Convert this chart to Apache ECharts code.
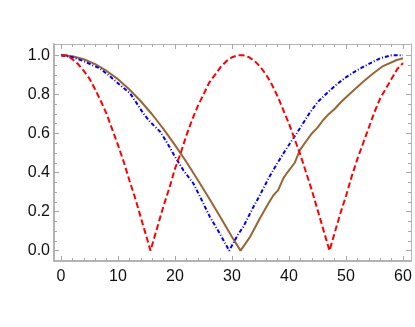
<!DOCTYPE html>
<html>
<head>
<meta charset="utf-8">
<script src="https://cdn.jsdelivr.net/npm/echarts@6/dist/echarts.min.js"></script>
<style>
    html, body { margin: 0; padding: 0; background: #fff; }
    #chart { width: 415px; height: 327px; }
</style>
</head>
<body>
<div id="chart"></div>
<script>
// values
var redX = [0, 1, 2, 3, 4, 5, 6, 7, 8, 9, 10, 11, 12, 13, 14, 15, 15.7, 16, 17, 18, 19, 20,
    21, 22, 23, 24, 25, 26, 27, 28, 29, 30, 31, 32, 33, 34, 35, 36, 37, 38, 39, 40,
    41, 42, 43, 44, 45, 46, 47.1, 48, 49, 50, 51, 52, 53, 54, 55, 56, 57, 58, 59, 60];
var redY = [1.00, 1.00, 0.98, 0.955, 0.92, 0.88, 0.825, 0.765, 0.70, 0.62, 0.54, 0.455, 0.36, 0.27, 0.17, 0.07, 0, 0.03, 0.13, 0.23, 0.32, 0.42,
    0.50, 0.59, 0.67, 0.74, 0.80, 0.86, 0.90, 0.94, 0.97, 0.99, 1.00, 1.00, 0.99, 0.97, 0.94, 0.90, 0.85, 0.79, 0.72, 0.65,
    0.57, 0.49, 0.40, 0.31, 0.21, 0.11, 0, 0.09, 0.19, 0.28, 0.38, 0.47, 0.55, 0.63, 0.71, 0.78, 0.83, 0.88, 0.93, 0.96];

var blueX = [0, 2, 4, 6.8, 8.5, 10.35, 12.1, 13.3, 14.5, 15.6, 17.4, 18.5, 20, 21.5, 23.2, 24.5, 26.1, 28, 29.5,
    31, 32, 33.5, 34.9, 36.4, 38, 39.5, 40.75, 42, 43.5, 45, 46.6, 48.3, 50.1, 52, 54.2, 56, 58, 60];
var blueY = [1.00, 0.99, 0.97, 0.933, 0.895, 0.848, 0.806, 0.754, 0.70, 0.66, 0.609, 0.558, 0.481, 0.41, 0.345, 0.27, 0.174, 0.08, 0,
    0.08, 0.123, 0.21, 0.285, 0.37, 0.45, 0.52, 0.575, 0.63, 0.70, 0.76, 0.805, 0.85, 0.89, 0.925, 0.959, 0.985, 1.00, 1.00];

var brownX = [0, 2, 4, 6, 8, 10, 12, 14, 16, 18, 20, 22, 24, 26, 28, 30, 31.5,
    33.2, 34.9, 36.4, 37.3, 38.1, 39, 39.6, 41, 41.9, 43, 44, 45, 46, 47, 48, 49, 50.1, 51.5, 53, 54.8, 56.5, 58.9, 60];
var brownY = [1.00, 0.995, 0.98, 0.955, 0.92, 0.878, 0.825, 0.765, 0.697, 0.622, 0.54, 0.454, 0.362, 0.267, 0.17, 0.07, 0,
    0.072, 0.166, 0.243, 0.285, 0.31, 0.37, 0.396, 0.45, 0.515, 0.56, 0.60, 0.63, 0.669, 0.70, 0.725, 0.757, 0.788, 0.825, 0.865, 0.908, 0.945, 0.976, 0.985];

var xMajor = [0, 10, 20, 30, 40, 50, 60];
var xMinor = [2, 4, 6, 8, 12, 14, 16, 18, 22, 24, 26, 28, 32, 34, 36, 38, 42, 44, 46, 48, 52, 54, 56, 58];
var yMajor = [0, 0.2, 0.4, 0.6, 0.8, 1.0];
var yMinor = [0.05, 0.1, 0.15, 0.25, 0.3, 0.35, 0.45, 0.5, 0.55, 0.65, 0.7, 0.75, 0.85, 0.9, 0.95];

function pairs(xs, ys) {
    return xs.map(function(x, i) { return [x, ys[i]]; });
}

var frameColor = '#b4b4b4';
var xRange = { min: -1.23, max: 61.4 };
var yRange = { min: -0.053, max: 1.058 };

function makeAxis(kind, position, ticks, tickLen, showLine, labels) {
    var range = kind === 'x' ? xRange : yRange;
    var axis = {
        type: 'value',
        position: position,
        min: range.min,
        max: range.max,
        splitLine: { show: false },
        axisLine: {
            show: showLine,
            onZero: false,
            lineStyle: { color: frameColor, width: (position === 'bottom' || position === 'left') ? 2 : 1 }
        },
        axisTick: { show: true, inside: true, length: tickLen, customValues: ticks, lineStyle: { color: '#a8a8a8', width: 1 } },
        axisLabel: { show: false }
    };
    if (labels) {
        axis.axisLabel = {
            show: true,
            customValues: labels,
            color: '#111',
            fontFamily: 'Liberation Sans',
            fontSize: 16,
            margin: kind === 'x' ? 8 : 4,
            formatter: function(v) { return kind === 'x' ? String(Math.round(v)) : v.toFixed(1); }
        };
    }
    return axis;
}

var chart = echarts.init(document.getElementById('chart'), null, { renderer: 'canvas' });

chart.setOption({
    animation: false,
    backgroundColor: '#fff',
    grid: { left: 54, top: 44, right: 4, bottom: 66, containLabel: false },
    xAxis: [
        makeAxis('x', 'bottom', xMajor, 5, true, xMajor),
        makeAxis('x', 'top', xMajor, 5, true, null),
        makeAxis('x', 'bottom', xMinor, 3, false, null),
        makeAxis('x', 'top', xMinor, 3, false, null)
    ],
    yAxis: [
        makeAxis('y', 'left', yMajor, 5, true, yMajor),
        makeAxis('y', 'right', yMajor, 5, true, null),
        makeAxis('y', 'left', yMinor, 3, false, null),
        makeAxis('y', 'right', yMinor, 3, false, null)
    ],
    series: [
        {
            type: 'line',
            data: pairs(brownX, brownY),
            showSymbol: false,
            lineStyle: { color: '#996633', width: 2 },
            z: 3
        },
        {
            type: 'line',
            data: pairs(blueX, blueY),
            showSymbol: false,
            lineStyle: { color: '#0000ff', width: 2, type: [4, 2, 1, 2] },
            z: 4
        },
        {
            type: 'line',
            data: pairs(redX, redY),
            showSymbol: false,
            lineStyle: { color: '#ff0000', width: 2, type: [6, 3] },
            z: 5
        }
    ]
});
</script>
</body>
</html>
